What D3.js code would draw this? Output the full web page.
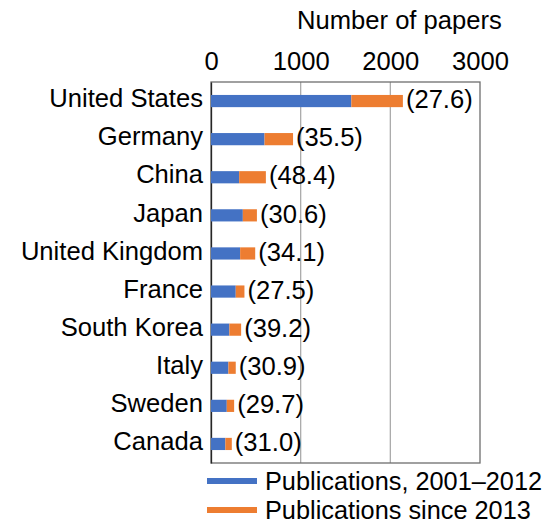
<!DOCTYPE html>
<html>
<head>
<meta charset="utf-8">
<script src="https://cdn.jsdelivr.net/npm/d3@7"></script>
<style>
    body { margin: 0; background: white; }
    text { font-family: "Liberation Sans", Arial, sans-serif; fill: black; }
</style>
</head>
<body>
<div id="ChartContainer"></div>
<script>
const Countries = ["United States", "Germany", "China", "Japan", "United Kingdom", "France", "South Korea", "Italy", "Sweden", "Canada"];
const Publications2001to2012 = [1565, 597, 314, 355, 325, 276, 205, 194, 176, 160];
const PublicationsSince2013 = [575, 318, 298, 157, 168, 97, 131, 82, 82, 72];
const ShareSince2013 = ["27.6", "35.5", "48.4", "30.6", "34.1", "27.5", "39.2", "30.9", "29.7", "31.0"];
const XTicks = [0, 1000, 2000, 3000];
const SeriesNames = ["Publications, 2001\u20132012", "Publications since 2013"];
const SeriesColors = ["#4472C4", "#ED7D31"];

function DrawChart()
{
    const Width = 545;
    const Height = 525;
    const Margin = { top: 82, left: 211 };
    const PlotWidth = 269;
    const PlotHeight = 381;
    const FontSize = '25.6px';

    const Svg = d3.select('#ChartContainer')
                  .append('svg')
                  .attr('width', Width)
                  .attr('height', Height);
    const Plot = Svg.append('g')
                    .attr('transform', `translate(${Margin.left}, ${Margin.top})`);

    const xScale = d3.scaleLinear()
                     .domain([0, 3000])
                     .range([0, PlotWidth]);
    const yScale = d3.scaleBand()
                     .domain(Countries)
                     .range([0, PlotHeight])
                     .paddingInner(0.68)
                     .paddingOuter(0.34);

    // gridlines
    Plot.selectAll('line.grid')
        .data(XTicks.slice(1, -1))
        .enter()
        .append('line')
        .attr('class', 'grid')
        .attr('x1', d => xScale(d))
        .attr('x2', d => xScale(d))
        .attr('y1', 0)
        .attr('y2', PlotHeight)
        .attr('stroke', '#ababab')
        .attr('stroke-width', 1.3);

    // frame
    Plot.append('rect')
        .attr('x', 0)
        .attr('y', 0)
        .attr('width', PlotWidth)
        .attr('height', PlotHeight)
        .attr('fill', 'none')
        .attr('stroke', '#6e6e6e')
        .attr('stroke-width', 1.3);

    // top axis
    const TopAxis = Plot.append('g')
                        .call(d3.axisTop(xScale).tickValues(XTicks).tickSize(0).tickPadding(12).tickFormat(d3.format('d')));
    TopAxis.select('.domain').remove();
    TopAxis.selectAll('text')
           .style('font-size', FontSize)
           .style('font-family', '"Liberation Sans", Arial, sans-serif')
           .attr('fill', 'black');

    // left axis
    const LeftAxis = Plot.append('g')
                         .call(d3.axisLeft(yScale).tickSize(0).tickPadding(8));
    LeftAxis.select('.domain')
            .attr('stroke', '#262626')
            .attr('stroke-width', 1.3);
    LeftAxis.selectAll('text')
            .attr('dy', '0.24em')
            .style('font-size', FontSize)
            .style('font-family', '"Liberation Sans", Arial, sans-serif')
            .attr('fill', 'black');

    // stacked bars
    const Rows = Countries.map((Country, i) => ({ Country: Country, Before: Publications2001to2012[i], After: PublicationsSince2013[i], Share: ShareSince2013[i] }));
    const Groups = Plot.selectAll('g.row')
                       .data(Rows)
                       .enter()
                       .append('g')
                       .attr('class', 'row');
    Groups.append('rect')
          .attr('x', xScale(0))
          .attr('y', d => yScale(d.Country))
          .attr('width', d => xScale(d.Before) - xScale(0))
          .attr('height', yScale.bandwidth())
          .attr('fill', SeriesColors[0]);
    Groups.append('rect')
          .attr('x', d => xScale(d.Before))
          .attr('y', d => yScale(d.Country))
          .attr('width', d => xScale(d.Before + d.After) - xScale(d.Before))
          .attr('height', yScale.bandwidth())
          .attr('fill', SeriesColors[1]);
    Groups.append('text')
          .attr('x', d => xScale(d.Before + d.After) + 3)
          .attr('y', d => yScale(d.Country) + yScale.bandwidth() / 2)
          .attr('dy', '0.28em')
          .style('font-size', FontSize)
          .text(d => `(${d.Share})`);

    // title
    Svg.append('text')
       .attr('x', 297)
       .attr('y', 29)
       .style('font-size', FontSize)
       .text('Number of papers');

    // legend
    const Legend = Svg.append('g');
    SeriesNames.forEach((Name, i) =>
    {
        const Item = Legend.append('g')
                           .attr('transform', `translate(207, ${478 + i * 29})`);
        Item.append('rect')
            .attr('width', 50)
            .attr('height', 6)
            .attr('fill', SeriesColors[i]);
        Item.append('text')
            .attr('x', 58)
            .attr('y', 3)
            .attr('dy', '0.35em')
            .style('font-size', '25.3px')
            .text(Name);
    });
}

document.addEventListener('DOMContentLoaded', DrawChart);
</script>
</body>
</html>
